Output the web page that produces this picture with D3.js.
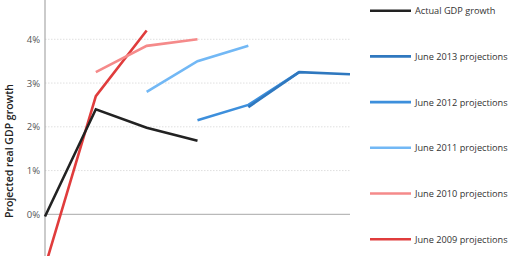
<!DOCTYPE html>
<html>
<head>
    <title>Projected real GDP growth</title>
    <script src="https://d3js.org/d3.v7.min.js"></script>
    <style>
        body { margin: 0; background: #fff; }
        text { font-family: "Open Sans", sans-serif; }
    </style>
</head>
<body>
<div id="chart"></div>
<script>
    // years on the x axis
    let years = [2009, 2010, 2011, 2012, 2013, 2014, 2015];

    // series values (percent), null where a series has no point
    let actualGrowth = [-0.05, 2.4, 1.98, 1.68, null, null, null];
    let june2013 = [null, null, null, null, 2.45, 3.25, 3.2];
    let june2012 = [null, null, null, 2.15, 2.5, 3.25, null];
    let june2011 = [null, null, 2.8, 3.5, 3.85, null, null];
    let june2010 = [null, 3.25, 3.85, 4.0, null, null, null];
    let june2009 = [-1.2, 2.7, 4.2, null, null, null, null];

    let seriesNames = ["Actual GDP growth", "June 2013 projections", "June 2012 projections",
        "June 2011 projections", "June 2010 projections", "June 2009 projections"];
    let seriesValues = [actualGrowth, june2013, june2012, june2011, june2010, june2009];
    let seriesColors = ["#222222", "#2f78bf", "#3d8fdc", "#72b8f5", "#f58a8a", "#e03c3c"];

    let yTicks = [0, 1, 2, 3, 4, 5];

    let width = 512,
        height = 256;

    let svg = d3.select("#chart")
        .append("svg")
        .attr("width", width)
        .attr("height", height);

    let x = d3.scaleLinear()
        .domain([2009, 2015])
        .range([45, 350]);

    let y = d3.scaleLinear()
        .domain([0, 4])
        .range([214.3, 39.3]);

    // gridlines
    svg.selectAll(".grid")
        .data(yTicks.filter(d => d !== 0))
        .enter()
        .append("line")
        .attr("x1", 45)
        .attr("x2", 350)
        .attr("y1", d => y(d))
        .attr("y2", d => y(d))
        .attr("stroke", "#d8d8d8")
        .attr("stroke-width", 0.8)
        .attr("stroke-dasharray", "1.5,1.5");

    // zero line
    svg.append("line")
        .attr("x1", 45)
        .attr("x2", 350)
        .attr("y1", y(0))
        .attr("y2", y(0))
        .attr("stroke", "#a8a8a8")
        .attr("stroke-width", 1);

    // y axis
    let yAxis = svg.append("g")
        .attr("transform", "translate(45,0)")
        .call(d3.axisLeft(y).tickValues(yTicks).tickSize(0).tickPadding(5).tickFormat(d => d + "%"));
    yAxis.select(".domain")
        .attr("d", `M0,${-10}V${height + 10}`)
        .attr("stroke", "#a8a8a8")
        .attr("stroke-width", 1.2);
    yAxis.selectAll("text")
        .attr("fill", "#555")
        .style("font-size", "9.5px")
        .style("font-family", "'Open Sans', sans-serif");

    svg.append("text")
        .attr("transform", "translate(9,151) rotate(-90)")
        .attr("text-anchor", "middle")
        .attr("dominant-baseline", "central")
        .attr("fill", "#222")
        .style("font-size", "10.5px")
        .style("font-weight", "600")
        .text("Projected real GDP growth");

    let line = d3.line()
        .defined(d => d != null)
        .x((d, i) => x(years[i]))
        .y(d => y(d));

    // draw lines from back (2009) to front (actual)
    let order = [5, 4, 3, 2, 1, 0];
    order.forEach(function(k) {
        svg.append("path")
            .datum(seriesValues[k])
            .attr("d", line)
            .attr("fill", "none")
            .attr("stroke", seriesColors[k])
            .attr("stroke-width", 2.6);
    });

    // legend
    let legend = svg.selectAll(".legend")
        .data(seriesNames)
        .enter()
        .append("g")
        .attr("transform", (d, i) => `translate(370,${10.7 + i * 45.7})`);

    legend.append("line")
        .attr("x1", 0)
        .attr("x2", 41)
        .attr("stroke", (d, i) => seriesColors[i])
        .attr("stroke-width", 2.6);

    legend.append("text")
        .attr("x", 45)
        .attr("dominant-baseline", "central")
        .attr("fill", "#333")
        .style("font-size", "9.2px")
        .text(d => d);
</script>
</body>
</html>
